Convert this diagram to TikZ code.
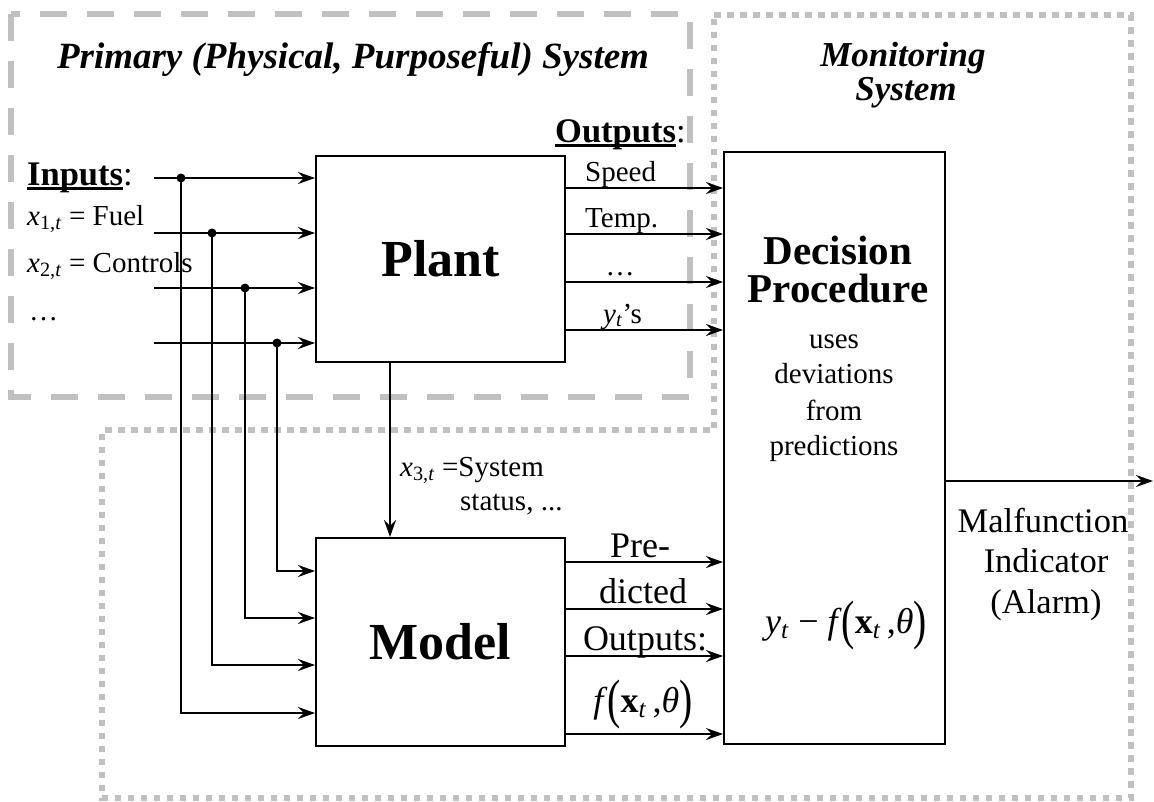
\documentclass[tikz,border=0pt]{standalone}
\usepackage{fontspec}
\setmainfont{Liberation Serif}
\usepackage{graphicx}
\usetikzlibrary{arrows.meta}
\definecolor{boxgray}{RGB}{192,192,192}
\newsavebox\ulbox
\newcommand\thickul[1]{\sbox\ulbox{#1}\rlap{\rule[-0.15em]{\wd\ulbox}{0.085em}}\usebox\ulbox}
\newcommand\bigpar[1]{\raisebox{-0.16em}{\scalebox{1.1}[1.5]{#1}}}
\begin{document}
\begin{tikzpicture}[x=1pt,y=-1pt,
  arr/.style={line width=1.6pt,-{Stealth[length=17pt,width=12pt,inset=6pt]}},
  blk/.style={draw,line width=2pt,inner sep=0pt,font=\fontsize{52}{60}\selectfont\bfseries},
  txt/.style={inner sep=0pt,font=\fontsize{29}{35}\selectfont},
  big/.style={inner sep=0pt,font=\fontsize{36}{42}\selectfont},
  mal/.style={inner sep=0pt,font=\fontsize{34.5}{40}\selectfont},
  lab/.style={inner sep=0pt,font=\fontsize{34.5}{40}\selectfont},
  dech/.style={inner sep=0pt,font=\fontsize{41}{48}\selectfont\bfseries},
  ttl/.style={inner sep=0pt,font=\fontsize{37}{44}\selectfont\bfseries\itshape},
  dashbox/.style={draw=boxgray,line width=6.5pt,dash pattern=on 27pt off 20pt},
  dotbox/.style={draw=boxgray,line width=6pt,dash pattern=on 6.5pt off 6.5pt},
]
\useasboundingbox (0,0) rectangle (1154,801);
% grey system boundaries
\draw[dashbox] (11,14) rectangle (690,397);
\draw[dotbox] (714,15) -- (1131,15) -- (1131,798) -- (102,798) -- (102,430) -- (714,430) -- cycle;

% blocks
\node[blk,minimum width=249pt,minimum height=206pt] (plant) at (440.5,259) {Plant};
\node[blk,minimum width=249pt,minimum height=208pt] (model) at (440.5,642) {Model};
\node[draw,line width=2pt,minimum width=221pt,minimum height=592pt,inner sep=0pt] (dec) at (834.5,448) {};

% titles
\node[ttl,anchor=base] (title1) at (353,68) {Primary (Physical, Purposeful) System};
\node[ttl,anchor=base,font=\fontsize{35}{42}\selectfont\bfseries\itshape] (title2) at (903,66) {Monitoring};
\node[ttl,anchor=base,font=\fontsize{35}{42}\selectfont\bfseries\itshape] (title3) at (906,100) {System};

% inputs
\node[lab,anchor=base west] (inlab) at (27,185) {\thickul{\textbf{Inputs}}:};
\node[txt,anchor=base west] (x1lab) at (27,225) {\textit{x}\textsubscript{1,\textit{t}} = Fuel};
\node[txt,anchor=base west] (x2lab) at (27,272) {\textit{x}\textsubscript{2,\textit{t}} = Controls};
\node[txt,anchor=base west] (dots1) at (29,320) {…};

% outputs
\node[lab,anchor=base west] (outlab) at (555,142) {\thickul{\textbf{Outputs}}:};
\node[txt,anchor=base west] (speed) at (585,181) {Speed};
\node[txt,anchor=base west] (temp) at (585,227) {Temp.};
\node[txt,anchor=base] (dots2) at (620,275) {…};
\node[txt,anchor=base west] (ys) at (603,323) {\textit{y}\textsubscript{\textit{t}}’s};

% x3 label
\node[txt,anchor=base west] (x3lab) at (400,476) {\textit{x}\textsubscript{3,\textit{t}} =System};
\node[txt,anchor=base west] (x3lab2) at (460,510) {status, ...};

% model outputs labels
\node[big,anchor=base] (pre) at (640,557) {Pre-};
\node[big,anchor=base] (dicted) at (643,603) {dicted};
\node[big,anchor=base] (predout) at (645,650) {Outputs:};
\node[big,anchor=base] (fx) at (643,712) {\textit{f}\bigpar{(}\textbf{x}\textsubscript{\textit{t}}\,,\textit{θ}\bigpar{)}};

% decision texts
\node[dech,anchor=base] (dec1) at (838,264) {Decision};
\node[dech,anchor=base] (dec2) at (838,302) {Procedure};
\node[txt,anchor=base] (dec3) at (834,348) {uses};
\node[txt,anchor=base] (dec4) at (834,383) {deviations};
\node[txt,anchor=base] (dec5) at (834,420) {from};
\node[txt,anchor=base] (dec6) at (834,455) {predictions};
\node[big,anchor=base] (resid) at (846,633) {\textit{y}\textsubscript{\textit{t}} − \textit{f}\bigpar{(}\textbf{x}\textsubscript{\textit{t}}\,,\textit{θ}\bigpar{)}};

% malfunction
\node[mal,anchor=base] (mal1) at (1043,532) {Malfunction};
\node[mal,anchor=base] (mal2) at (1046,572) {Indicator};
\node[mal,anchor=base] (mal3) at (1046,613) {(Alarm)};

% connectors
\coordinate (in1) at (154,178);
\coordinate (in2) at (154,233);
\coordinate (in3) at (154,288);
\coordinate (in4) at (154,343);
\coordinate (j1) at (181,178);
\coordinate (j2) at (212,233);
\coordinate (j3) at (245,288);
\coordinate (j4) at (277,343);
\draw[arr] (in1) -- (plant.west |- in1);
\draw[arr] (in2) -- (plant.west |- in2);
\draw[arr] (in3) -- (plant.west |- in3);
\draw[arr] (in4) -- (plant.west |- in4);
\draw[arr] (j1) |- (model.west |- 0,713);
\draw[arr] (j2) |- (model.west |- 0,665);
\draw[arr] (j3) |- (model.west |- 0,618);
\draw[arr] (j4) |- (model.west |- 0,571);
\fill (j1) circle (4.5pt);
\fill (j2) circle (4.5pt);
\fill (j3) circle (4.5pt);
\fill (j4) circle (4.5pt);

\foreach \yy in {188,234,282,330}
  \draw[arr] (plant.east |- 0,\yy) -- (dec.west |- 0,\yy);
\foreach \yy in {562,609,656,734}
  \draw[arr] (model.east |- 0,\yy) -- (dec.west |- 0,\yy);

\draw[arr] (plant.south -| 390,0) -- (model.north -| 390,0);

\coordinate (alarm) at (1153,481);
\draw[arr] (dec.east |- alarm) -- (alarm);
\end{tikzpicture}
\end{document}
